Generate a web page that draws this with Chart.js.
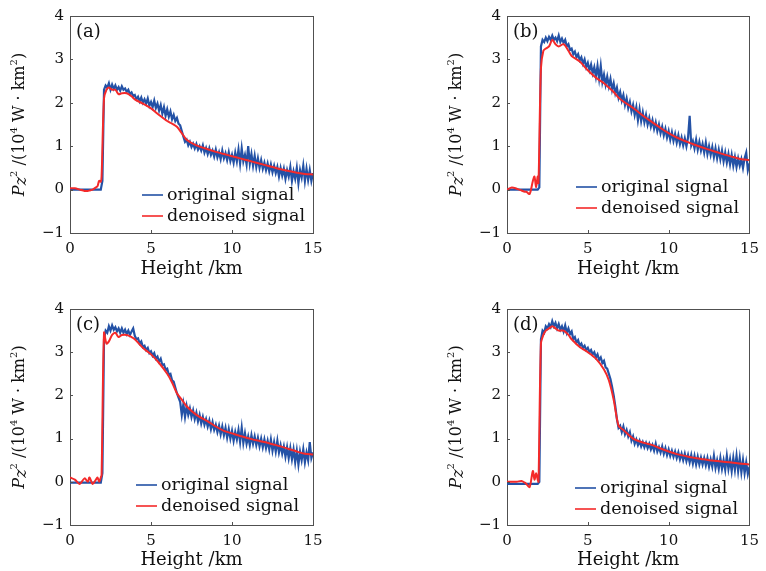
<!DOCTYPE html>
<html>
<head>
<meta charset="utf-8">
<script src="https://cdn.jsdelivr.net/npm/chart.js@4.4.0/dist/chart.umd.min.js"></script>
<style>
  body { margin: 0; background: #fff; }
  canvas { position: absolute; }
</style>
</head>
<body>
<canvas id="chartA" width="383" height="286" style="left:0;top:0"></canvas>
<canvas id="chartB" width="383" height="286" style="left:383px;top:0"></canvas>
<canvas id="chartC" width="383" height="285" style="left:0;top:286px"></canvas>
<canvas id="chartD" width="383" height="285" style="left:383px;top:286px"></canvas>
<script>
// heights for the raw (original) signal, km
const heights = [0, 0.1, 0.2, 0.3, 0.4, 0.5, 0.6, 0.7, 0.8, 0.9, 1, 1.1, 1.2, 1.3, 1.4, 1.5, 1.6, 1.7, 1.8, 1.9, 2,
  2.1, 2.2, 2.3, 2.4, 2.5, 2.6, 2.7, 2.8, 2.9, 3, 3.1, 3.2, 3.3, 3.4, 3.5, 3.6, 3.7, 3.8, 3.9, 4,
  4.1, 4.2, 4.3, 4.4, 4.5, 4.6, 4.7, 4.8, 4.9, 5, 5.1, 5.2, 5.3, 5.4, 5.5, 5.6, 5.7, 5.8, 5.9, 6,
  6.1, 6.2, 6.3, 6.4, 6.5, 6.6, 6.7, 6.8, 6.9, 7, 7.1, 7.2, 7.3, 7.4, 7.5, 7.6, 7.7, 7.8, 7.9, 8,
  8.1, 8.2, 8.3, 8.4, 8.5, 8.6, 8.7, 8.8, 8.9, 9, 9.1, 9.2, 9.3, 9.4, 9.5, 9.6, 9.7, 9.8, 9.9, 10,
  10.1, 10.2, 10.3, 10.4, 10.5, 10.6, 10.7, 10.8, 10.9, 11, 11.1, 11.2, 11.3, 11.4, 11.5, 11.6, 11.7, 11.8, 11.9, 12,
  12.1, 12.2, 12.3, 12.4, 12.5, 12.6, 12.7, 12.8, 12.9, 13, 13.1, 13.2, 13.3, 13.4, 13.5, 13.6, 13.7, 13.8, 13.9, 14,
  14.1, 14.2, 14.3, 14.4, 14.5, 14.6, 14.7, 14.8, 14.9, 15];

// heights for the denoised signal, km
const denoisedHeights = [0, 0.3, 0.6, 0.9, 1.1, 1.2, 1.4, 1.6, 1.7, 1.8, 1.9, 1.95, 2.1, 2.25, 2.4, 2.6, 2.8,
  3.0, 3.2, 3.5, 3.8, 4.0, 4.5, 5.0, 5.5, 6.0, 6.3, 6.6, 6.9, 7.2, 7.8, 8.5, 9.0, 9.5, 10, 10.5,
  11, 11.5, 12, 12.5, 13, 13.5, 14, 14.5, 15];

const yTicks = [-1, 0, 1, 2, 3, 4];
const xTicks = [0, 5, 10, 15];
const seriesNames = ['original signal', 'denoised signal'];

// panel (a)
const originalA = [0, 0, 0, 0, 0, 0, 0, 0, 0, 0, 0, 0, 0, 0, 0, 0, 0, 0, 0, 0, 0.2,
  2.3, 2.4, 2.35, 2.45, 2.3, 2.42, 2.32, 2.4, 2.3, 2.36,
  2.28, 2.38, 2.3, 2.33, 2.25, 2.3, 2.2, 2.24, 2.15, 2.18,
  2.08, 2.14, 2.03, 2.12, 2.0, 2.08, 1.98, 2.1, 1.93, 2.02,
  1.9, 2.05, 1.88, 1.98, 1.82, 1.95, 1.75, 1.9, 1.7, 1.85,
  1.68, 1.8, 1.62, 1.72, 1.58, 1.65, 1.52, 1.48, 1.35, 1.22,
  1.1, 1.15, 1.02, 1.1, 0.98, 1.06, 0.95, 1.05, 0.92, 1.0,
  0.9, 1.02, 0.85, 0.96, 0.82, 0.95, 0.8, 0.9, 0.76, 0.92,
  0.74, 0.86, 0.7, 0.9, 0.72, 0.84, 0.68, 0.86, 0.66, 0.8,
  0.62, 0.85, 0.65, 0.92, 0.6, 0.95, 0.65, 0.8, 0.58, 1.0,
  0.6, 0.82, 0.55, 0.78, 0.52, 0.72, 0.5, 0.68, 0.48, 0.62,
  0.45, 0.6, 0.42, 0.58, 0.4, 0.55, 0.38, 0.52, 0.3, 0.5,
  0.32, 0.48, 0.25, 0.45, 0.3, 0.52, 0.2, 0.42, 0.25, 0.5,
  0.15, 0.45, 0.28, 0.55, 0.2, 0.48, 0.22, 0.45, 0.2, 0.38];
const denoisedA = [0.03, 0.03, 0.0, -0.03, -0.03, -0.02, 0.0, 0.05, 0.08, 0.2, 0.18, 0.3,
  2.1, 2.3, 2.35, 2.3, 2.3, 2.2, 2.22, 2.22, 2.15, 2.08, 1.98, 1.87, 1.72, 1.58, 1.52, 1.45,
  1.3, 1.15, 1.02, 0.93, 0.87, 0.82, 0.77, 0.72, 0.67, 0.62, 0.57, 0.52, 0.47, 0.43, 0.39, 0.36, 0.35];

// panel (b)
const originalB = [0, 0, 0, 0, 0, 0, 0, 0, 0, 0, 0, 0, 0, 0, 0, 0, 0, 0, 0, 0, 0.05,
  3.3, 3.45, 3.4, 3.5, 3.42, 3.52, 3.45, 3.55, 3.45, 3.5,
  3.42, 3.55, 3.4, 3.48, 3.38, 3.45, 3.3, 3.35, 3.22, 3.25,
  3.12, 3.18, 3.05, 3.12, 2.98, 3.05, 2.9, 3.0, 2.82, 2.92,
  2.75, 2.88, 2.68, 2.82, 2.6, 2.85, 2.55, 2.85, 2.48, 2.65,
  2.42, 2.6, 2.38, 2.55, 2.3, 2.45, 2.22, 2.35, 2.12, 2.25,
  2.05, 2.18, 1.95, 2.1, 1.88, 2.02, 1.8, 1.95, 1.72, 1.9,
  1.6, 1.85, 1.58, 1.78, 1.55, 1.72, 1.5, 1.65, 1.45, 1.6,
  1.4, 1.55, 1.35, 1.5, 1.3, 1.45, 1.25, 1.4, 1.2, 1.35,
  1.15, 1.32, 1.12, 1.28, 1.08, 1.25, 1.05, 1.2, 1.02, 1.18,
  1.0, 1.2, 1.7, 1.02, 1.12, 0.95, 1.15, 0.92, 1.1, 0.9,
  1.05, 0.85, 1.08, 0.82, 1.0, 0.8, 0.98, 0.75, 0.95, 0.72,
  0.92, 0.7, 0.9, 0.65, 0.85, 0.62, 0.82, 0.58, 0.8, 0.55,
  0.75, 0.52, 0.72, 0.55, 0.7, 0.5, 0.72, 0.85, 0.45, 0.6];
const denoisedB = [0.0, 0.05, 0.02, -0.02, -0.05, -0.05, -0.1, 0.2, 0.3, 0.05, 0.3, 0.15,
  2.8, 3.2, 3.25, 3.3, 3.45, 3.35, 3.3, 3.35, 3.2, 3.08, 2.95, 2.75, 2.58, 2.45, 2.35, 2.25,
  2.12, 2.03, 1.88, 1.68, 1.55, 1.42, 1.3, 1.2, 1.12, 1.05, 0.98, 0.92, 0.86, 0.8, 0.75, 0.7, 0.68];

// panel (c)
const originalC = [-0.02, -0.02, -0.02, -0.02, -0.02, -0.02, -0.02, -0.02, -0.02, -0.02, -0.02,
  -0.02, -0.02, -0.02, -0.02, -0.02, -0.02, -0.02, -0.02, -0.02, 0.2,
  3.3, 3.5, 3.45, 3.6, 3.5, 3.62, 3.52, 3.58, 3.48, 3.55,
  3.45, 3.55, 3.45, 3.52, 3.42, 3.5, 3.4, 3.48, 3.55, 3.38,
  3.3, 3.32, 3.2, 3.25, 3.12, 3.15, 3.05, 3.1, 2.98, 3.02,
  2.92, 2.98, 2.85, 2.9, 2.78, 2.85, 2.7, 2.72, 2.6, 2.62,
  2.48, 2.5, 2.35, 2.32, 2.18, 2.05, 1.95, 1.85, 1.55, 1.8,
  1.5, 1.75, 1.55, 1.7, 1.5, 1.65, 1.45, 1.6, 1.4, 1.55,
  1.35, 1.5, 1.32, 1.45, 1.28, 1.42, 1.22, 1.38, 1.2, 1.32,
  1.15, 1.3, 1.1, 1.28, 1.08, 1.25, 1.02, 1.22, 1.0, 1.18,
  0.95, 1.15, 0.98, 1.2, 0.92, 1.25, 0.9, 1.12, 0.88, 1.05,
  0.85, 1.08, 0.88, 1.05, 0.85, 1.02, 0.82, 1.0, 0.8, 0.98,
  0.78, 0.95, 0.75, 0.98, 0.72, 0.92, 0.7, 0.95, 0.68, 0.85,
  0.65, 0.82, 0.58, 0.8, 0.55, 0.78, 0.52, 0.75, 0.45, 0.72,
  0.4, 0.7, 0.5, 0.75, 0.45, 0.68, 0.5, 0.92, 0.55, 0.68];
const denoisedC = [0.1, 0.05, -0.05, 0.08, 0.0, 0.1, -0.05, 0.05, 0.1, 0.0, 0.1, 0.15,
  3.45, 3.2, 3.25, 3.4, 3.45, 3.35, 3.4, 3.4, 3.35, 3.3, 3.1, 2.95, 2.75, 2.5, 2.3, 2.05,
  1.9, 1.75, 1.55, 1.4, 1.28, 1.18, 1.12, 1.06, 1.01, 0.96, 0.92, 0.87, 0.82, 0.76, 0.7, 0.65, 0.63];

// panel (d)
const originalD = [-0.05, -0.05, -0.05, -0.05, -0.05, -0.05, -0.05, -0.05, -0.05, -0.05, -0.05,
  -0.05, -0.05, -0.05, -0.05, -0.05, -0.05, -0.05, -0.05, -0.05, 0.0,
  3.3, 3.5, 3.45, 3.6, 3.55, 3.65, 3.58, 3.72, 3.6, 3.68,
  3.55, 3.65, 3.52, 3.6, 3.48, 3.62, 3.45, 3.55, 3.42, 3.48,
  3.3, 3.35, 3.22, 3.28, 3.15, 3.2, 3.1, 3.15, 3.05, 3.1,
  3.0, 3.05, 2.95, 3.0, 2.88, 2.95, 2.82, 2.88, 2.75, 2.8,
  2.65, 2.62, 2.5, 2.38, 2.2, 2.0, 1.75, 1.45, 1.25, 1.3,
  1.15, 1.28, 1.1, 1.2, 1.05, 1.15, 0.95, 1.05, 0.88, 0.98,
  0.85, 0.95, 0.82, 0.92, 0.8, 0.9, 0.78, 0.88, 0.75, 0.85,
  0.72, 0.88, 0.7, 0.8, 0.68, 0.82, 0.65, 0.78, 0.62, 0.75,
  0.6, 0.72, 0.58, 0.7, 0.55, 0.68, 0.52, 0.65, 0.5, 0.65,
  0.48, 0.62, 0.45, 0.62, 0.42, 0.6, 0.4, 0.58, 0.4, 0.56,
  0.4, 0.55, 0.38, 0.55, 0.35, 0.52, 0.35, 0.6, 0.32, 0.5,
  0.3, 0.55, 0.3, 0.5, 0.28, 0.6, 0.3, 0.52, 0.25, 0.55,
  0.28, 0.6, 0.25, 0.55, 0.22, 0.5, 0.2, 0.45, 0.18, 0.35];
const denoisedD = [0.0, 0.0, 0.0, 0.02, -0.02, -0.05, -0.12, 0.25, 0.05, 0.2, 0.05, 0.0,
  3.2, 3.4, 3.5, 3.55, 3.6, 3.55, 3.5, 3.5, 3.4, 3.3, 3.12, 3.0, 2.85, 2.6, 2.35, 1.9,
  1.3, 1.2, 1.0, 0.9, 0.85, 0.77, 0.7, 0.64, 0.6, 0.56, 0.53, 0.5, 0.48, 0.46, 0.44, 0.42, 0.4];

const FONT = "'DejaVu Serif', 'Liberation Serif', serif";
const BLUE = '#2452a6';
const RED = '#f42a2a';
const AXIS = '#505050';

function pairs(xs, ys) {
  return xs.map((x, i) => ({ x: x, y: ys[i] }));
}

// small inward tick marks on the bottom and left sides
const innerTicks = {
  id: 'innerTicks',
  afterDatasetsDraw(chart) {
    const { ctx, chartArea: a, scales } = chart;
    ctx.save();
    ctx.strokeStyle = AXIS;
    ctx.lineWidth = 1;
    ctx.beginPath();
    xTicks.forEach(v => {
      const px = Math.round(scales.x.getPixelForValue(v)) + 0.5;
      ctx.moveTo(px, a.bottom);
      ctx.lineTo(px, a.bottom - 3);
    });
    yTicks.forEach(v => {
      const py = Math.round(scales.y.getPixelForValue(v)) + 0.5;
      ctx.moveTo(a.left, py);
      ctx.lineTo(a.left + 3, py);
    });
    ctx.stroke();
    ctx.restore();
  }
};

// legend inside the plot, panel letter and mixed-font y title
const annotate = {
  id: 'annotate',
  afterDraw(chart) {
    const { ctx, chartArea: a } = chart;
    const o = chart.options.plugins.annotate;
    ctx.save();
    ctx.fillStyle = '#111';
    ctx.textBaseline = 'middle';

    ctx.font = '18px ' + FONT;
    ctx.textAlign = 'left';
    ctx.fillText(o.label, a.left + 6, a.top + 16);

    ctx.font = '17.5px ' + FONT;
    const tx = a.left + o.legendX;
    let ty = a.bottom - o.legendY;
    chart.data.datasets.forEach(ds => {
      ctx.strokeStyle = ds.borderColor;
      ctx.lineWidth = 1.6;
      ctx.beginPath();
      ctx.moveTo(tx - 25, ty);
      ctx.lineTo(tx - 4, ty);
      ctx.stroke();
      ctx.fillText(ds.label, tx, ty);
      ty += 21;
    });

    const parts = [
      { t: 'P', f: 'italic 16px ', dy: 0 },
      { t: 'z', f: 'italic 16px ', dy: 2 },
      { t: '2', f: '10px ', dy: -6 },
      { t: ' /(10', f: '16px ', dy: 0 },
      { t: '4', f: '10px ', dy: -6 },
      { t: ' W \u00b7 km', f: '16px ', dy: 0 },
      { t: '2', f: '10px ', dy: -6 },
      { t: ')', f: '16px ', dy: 0 }
    ];
    let total = 0;
    parts.forEach(p => { ctx.font = p.f + FONT; p.w = ctx.measureText(p.t).width; total += p.w; });
    ctx.translate(a.left - 50, (a.top + a.bottom) / 2);
    ctx.rotate(-Math.PI / 2);
    let x = -total / 2;
    parts.forEach(p => {
      ctx.font = p.f + FONT;
      ctx.fillText(p.t, x, p.dy);
      x += p.w;
    });
    ctx.restore();
  }
};

// a tick-less axis that only draws its border, used for the top and right sides
function edgeAxis(position, min, max) {
  return {
    type: 'linear',
    position: position,
    min: min,
    max: max,
    afterFit: s => { if (position === 'top') s.height = 0; else s.width = 0; },
    ticks: { display: false },
    grid: { display: false, drawTicks: false },
    border: { display: true, color: AXIS, width: 1 }
  };
}

function makePanel(id, label, original, denoised, layout) {
  new Chart(document.getElementById(id), {
    type: 'line',
    data: {
      datasets: [
        {
          label: seriesNames[0],
          data: pairs(heights, original),
          borderColor: BLUE,
          borderWidth: 2.2,
          pointRadius: 0,
          tension: 0,
          order: 2
        },
        {
          label: seriesNames[1],
          data: pairs(denoisedHeights, denoised),
          borderColor: RED,
          borderWidth: 2,
          pointRadius: 0,
          tension: 0.3,
          order: 1
        }
      ]
    },
    options: {
      responsive: false,
      animation: false,
      layout: { padding: { left: layout.left, right: layout.right, top: layout.top, bottom: 0 } },
      plugins: {
        legend: { display: false },
        tooltip: { enabled: false },
        annotate: { label: label, legendX: layout.legendX, legendY: layout.legendY }
      },
      scales: {
        x: {
          type: 'linear',
          min: 0,
          max: 15,
          afterBuildTicks: s => { s.ticks = xTicks.map(v => ({ value: v })); },
          afterFit: s => { s.height = layout.xh; },
          grid: { display: false, drawTicks: false },
          border: { display: true, color: AXIS, width: 1 },
          ticks: { padding: 7, color: '#111', font: { family: FONT, size: 15 }, maxRotation: 0 },
          title: {
            display: true,
            text: 'Height /km',
            color: '#111',
            font: { family: FONT, size: 18 },
            padding: { top: 0, bottom: layout.titlePad }
          }
        },
        y: {
          type: 'linear',
          min: -1,
          max: 4,
          afterBuildTicks: s => { s.ticks = yTicks.map(v => ({ value: v })); },
          afterFit: s => { s.width = 70; },
          grid: { display: false, drawTicks: false },
          border: { display: true, color: AXIS, width: 1 },
          ticks: {
            padding: 6,
            color: '#111',
            font: { family: FONT, size: 15 },
            callback: v => (v < 0 ? '\u2212' + Math.abs(v) : String(v))
          }
        },
        xTop: edgeAxis('top', 0, 15),
        yRight: edgeAxis('right', -1, 4)
      }
    },
    plugins: [innerTicks, annotate]
  });
}

makePanel('chartA', '(a)', originalA, denoisedA, { left: 0, right: 70, top: 16, xh: 53, titlePad: 6, legendX: 97, legendY: 38 });
makePanel('chartB', '(b)', originalB, denoisedB, { left: 54, right: 15, top: 16, xh: 53, titlePad: 6, legendX: 94, legendY: 46 });
makePanel('chartC', '(c)', originalC, denoisedC, { left: 0, right: 70, top: 23, xh: 46, titlePad: 0, legendX: 91, legendY: 40 });
makePanel('chartD', '(d)', originalD, denoisedD, { left: 54, right: 15, top: 23, xh: 46, titlePad: 0, legendX: 93, legendY: 37 });
</script>
</body>
</html>
